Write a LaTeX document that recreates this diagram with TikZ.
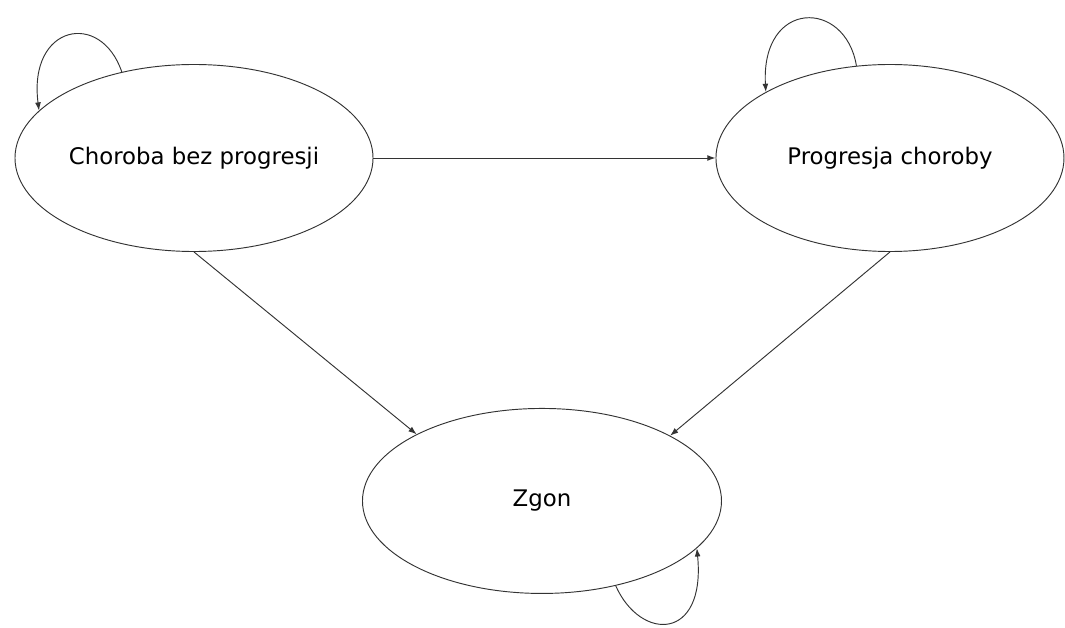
\documentclass[tikz,border=0pt]{standalone}
\usepackage{fontspec}
\setmainfont{DejaVu Sans}
\usetikzlibrary{arrows.meta,positioning,calc,shapes.geometric}

\begin{document}
\begin{tikzpicture}[
        x=0.03cm, y=-0.03cm,
        every node/.style={font=\fontsize{19.5}{23}\selectfont},
        stan/.style={
            ellipse, draw=black!80, line width=0.8pt, inner sep=0pt,
            minimum height=5.61cm
        }
    ]
    \useasboundingbox (0,0) rectangle (1065,628);
    \node[stan, minimum width=10.74cm] (bezprog) at (194,158) {Choroba bez progresji};
    \node[stan, minimum width=10.44cm] (prog) [right=10.26cm of bezprog] {Progresja choroby};
    \coordinate (mid) at ($(bezprog.south)!0.5!(prog.south)$);
    \node[stan, minimum width=10.77cm, minimum height=5.55cm] (zgon) [below=4.68cm of mid] {Zgon};

    \begin{scope}[line width=0.8pt, black!80]%
        \path[-{Latex[length=7pt,width=5pt]}] (bezprog) edge (prog)
        (bezprog.south) edge (zgon.152)
        (prog.south) edge (zgon.27);
        % petle
        \draw[-{Latex[length=7pt,width=5pt]}] (bezprog.130) .. controls +(-21,-62) and +(-11,-86) .. (bezprog.163);
        \draw[-{Latex[length=7pt,width=5pt]}] (prog.110) .. controls +(-11,-67) and +(-5,-93) .. (prog.152);
        \draw[-{Latex[length=7pt,width=5pt]}] (zgon.-49) .. controls +(25,56) and +(9,93) .. (zgon.-17);
    \end{scope}
\end{tikzpicture}
\end{document}
